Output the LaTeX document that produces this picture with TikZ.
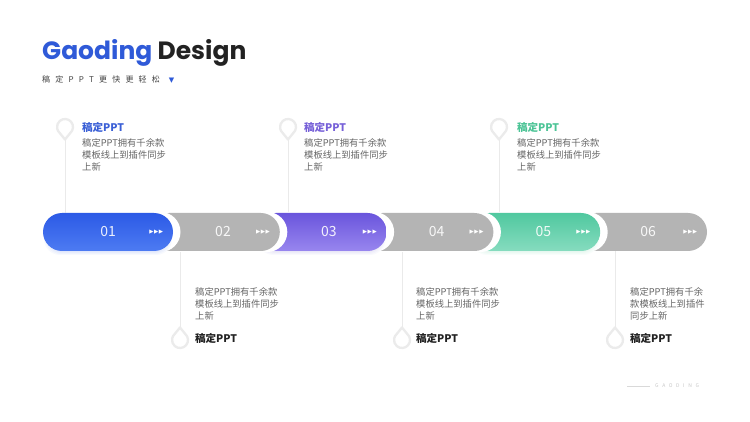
\documentclass[tikz,border=0pt]{standalone}
\usepackage{fontspec}
\setmainfont{Noto Sans CJK SC}
\newfontfamily\popfont{Poppins}
\newfontfamily\symfont{DejaVu Sans}
\usetikzlibrary{calc}
\definecolor{gblue}{HTML}{2F5AD8}
\definecolor{gdark}{HTML}{222222}
\definecolor{bluetop}{HTML}{2C5AE6}
\definecolor{bluebot}{HTML}{4D7BF2}
\definecolor{purtop}{HTML}{6A55DC}
\definecolor{purbot}{HTML}{9886EF}
\definecolor{grntop}{HTML}{50C89F}
\definecolor{grnbot}{HTML}{86DCBF}
\definecolor{pillgray}{HTML}{B4B4B4}
\definecolor{tblue}{HTML}{3A5FD6}
\definecolor{tpur}{HTML}{7660D8}
\definecolor{tgrn}{HTML}{4CC496}
\definecolor{bodyc}{HTML}{666666}
\definecolor{pinc}{HTML}{EBEBEB}
\definecolor{linec}{HTML}{EAEAEA}
\newcommand{\ls}{\hspace{5.2pt}}
\tikzset{
  pillbox/.style={rectangle, rounded corners=19pt, minimum width=130pt, minimum height=38pt, inner sep=0pt},
  halo/.style={pillbox, fill=white, minimum height=40pt, rounded corners=20pt},
  numtxt/.style={font=\fontsize{14}{16}\selectfont, text=white, text opacity=0.9, inner sep=0pt},
  arrtxt/.style={font=\symfont\fontsize{5.5}{6}\selectfont, text=white, inner sep=0pt},
  pinshape/.style={draw=pinc, line width=2.3pt, fill=white, line join=round},
  pinnode/.style={circle, minimum size=16pt, inner sep=0pt},
  conn/.style={draw=linec, line width=0.8pt},
  ttl/.style={font=\fontsize{10.5}{12}\selectfont\bfseries, inner sep=0pt, anchor=west},
  body/.style={font=\fontsize{9.3}{12}\selectfont, text=bodyc, inner sep=0pt, anchor=north west, align=left}
}
\begin{document}
\begin{tikzpicture}[x=1pt, y=-1pt]
\useasboundingbox[fill=white] (0,0) rectangle (750,422);

% header
\node[anchor=base west, inner sep=0pt] (hdr) at (42,59.5)
  {\popfont\bfseries\fontsize{25}{30}\selectfont\textcolor{gblue}{Gaoding} \textcolor{gdark}{Design}};
\node[anchor=west, inner sep=0pt, font=\fontsize{8}{9}\selectfont, text=gdark!85] (sub) at (42,80)
  {稿\ls 定\ls P\ls P\ls T\ls 更\ls 快\ls 更\ls 轻\ls 松\hspace{9pt}{\symfont\fontsize{7}{8}\selectfont\textcolor{gblue}{▼}}};

% pin markers
\node[pinnode] (m1) at (65,127) {};
\node[pinnode] (m3) at (288,127) {};
\node[pinnode] (m5) at (499,127) {};
\node[pinnode] (m2) at (180,340) {};
\node[pinnode] (m4) at (402,340) {};
\node[pinnode] (m6) at (615,340) {};

% pills (positions)
\node[pillbox] (p1) at (108,232) {};
\node[pillbox] (p2) at (214.8,232) {};
\node[pillbox] (p3) at (321.6,232) {};
\node[pillbox] (p4) at (428.4,232) {};
\node[pillbox] (p5) at (535.2,232) {};
\node[pillbox] (p6) at (642,232) {};

% connectors (behind)
\foreach \m/\p in {m1/p1, m3/p3, m5/p5} {
  \draw[conn] ($(\m.center)+(0,12)$) -- (\m.center |- \p.north);
}
\foreach \m/\p in {m2/p2, m4/p4, m6/p6} {
  \draw[conn] ($(\m.center)+(0,-12)$) -- (\m.center |- \p.south);
}

% pin drops
\foreach \m in {m1, m3, m5} {
  \draw[pinshape] ($(\m.center)+(50:8)$) arc[start angle=50, end angle=-230, radius=8] -- ($(\m.center)+(0,12.5)$) -- cycle;
}
\foreach \m in {m2, m4, m6} {
  \draw[pinshape] ($(\m.center)+(-50:8)$) arc[start angle=-50, end angle=230, radius=8] -- ($(\m.center)+(0,-12.5)$) -- cycle;
}

% pills drawn right to left
\node[pillbox, fill=pillgray] at (p6) {};
\node[halo] at ($(p5)+(7.5,0)$) {};
\foreach \k in {1,...,6} {
  \fill[grntop, opacity=0.035, rounded corners=16pt] ($(p5)+(-58-\k,-10-\k)$) rectangle ($(p5)+(58+\k,17+\k)$);
}
\node[pillbox, top color=grntop, bottom color=grnbot] at (p5) {};
\node[halo] at ($(p4)+(7.5,0)$) {};
\node[pillbox, fill=pillgray] at (p4) {};
\node[halo] at ($(p3)+(7.5,0)$) {};
\foreach \k in {1,...,6} {
  \fill[purtop, opacity=0.035, rounded corners=16pt] ($(p3)+(-58-\k,-10-\k)$) rectangle ($(p3)+(58+\k,17+\k)$);
}
\node[pillbox, top color=purtop, bottom color=purbot] at (p3) {};
\node[halo] at ($(p2)+(7.5,0)$) {};
\node[pillbox, fill=pillgray] at (p2) {};
\node[halo] at ($(p1)+(7.5,0)$) {};
\foreach \k in {1,...,6} {
  \fill[bluetop, opacity=0.035, rounded corners=16pt] ($(p1)+(-58-\k,-10-\k)$) rectangle ($(p1)+(58+\k,17+\k)$);
}
\node[pillbox, top color=bluetop, bottom color=bluebot] at (p1) {};

% numbers and arrows
\node[numtxt] (n1) at ($(p1.east)+(-65,0)$) {01};
\node[numtxt] (n2) at ($(p2.east)+(-57,0)$) {02};
\node[numtxt] (n3) at ($(p3.east)+(-58,0)$) {03};
\node[numtxt] (n4) at ($(p4.east)+(-57,0)$) {04};
\node[numtxt] (n5) at ($(p5.east)+(-57,0)$) {05};
\node[numtxt] (n6) at ($(p6.east)+(-59,0)$) {06};
\foreach \p in {p1,p2,p3,p4,p5,p6} {
  \node[arrtxt] (a\p) at ($(\p.east)+(-17,0)$) {▶\hspace{0.6pt}▶\hspace{0.6pt}▶};
}

% top labels
\node[ttl, text=tblue] (t1) at (82,127) {稿定PPT};
\node[body] (b1) at (82,138.5) {稿定PPT拥有千余款\\模板线上到插件同步\\上新};
\node[ttl, text=tpur] (t3) at (304,127) {稿定PPT};
\node[body] (b3) at (304,138.5) {稿定PPT拥有千余款\\模板线上到插件同步\\上新};
\node[ttl, text=tgrn] (t5) at (517,127) {稿定PPT};
\node[body] (b5) at (517,138.5) {稿定PPT拥有千余款\\模板线上到插件同步\\上新};

% bottom labels
\node[body] (b2) at (195,287.5) {稿定PPT拥有千余款\\模板线上到插件同步\\上新};
\node[ttl, text=gdark] (t2) at (195,338) {稿定PPT};
\node[body] (b4) at (416,287.5) {稿定PPT拥有千余款\\模板线上到插件同步\\上新};
\node[ttl, text=gdark] (t4) at (416,338) {稿定PPT};
\node[body] (b6) at (630,287.5) {稿定PPT拥有千余\\款模板线上到插件\\同步上新};
\node[ttl, text=gdark] (t6) at (630,338) {稿定PPT};

% footer
\coordinate (fl) at (627,386);
\node[anchor=west, inner sep=0pt, font=\fontsize{5}{6}\selectfont, text=black!22] (foot) at (655,386)
  {G\hspace{3.6pt}A\hspace{3.6pt}O\hspace{3.6pt}D\hspace{3.6pt}I\hspace{3.6pt}N\hspace{3.6pt}G};
\draw[draw=black!15, line width=0.6pt] (fl) -- ($(foot.west)+(-5,0)$);
\end{tikzpicture}
\end{document}
